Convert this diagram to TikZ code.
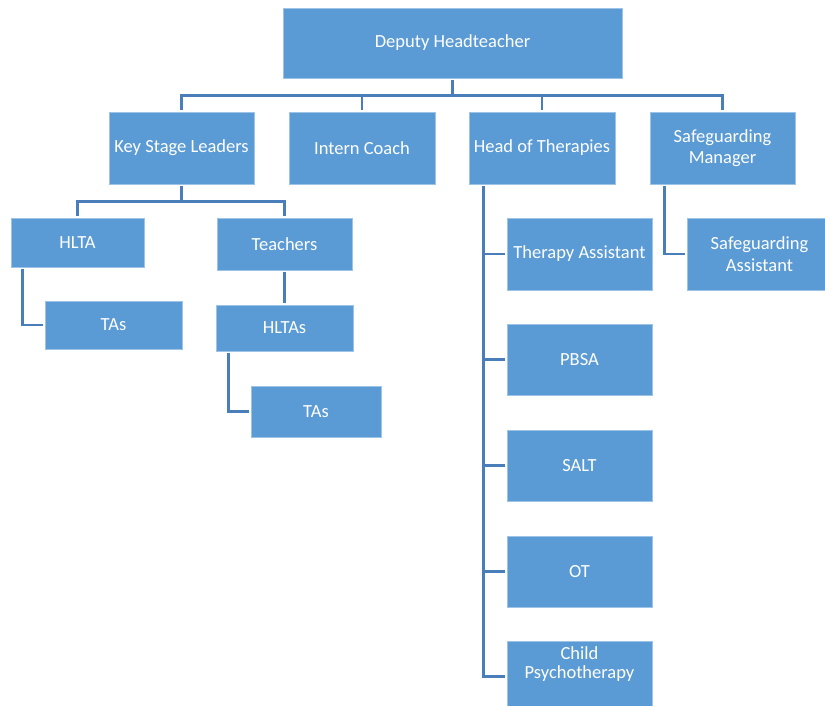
\documentclass[tikz,border=0pt]{standalone}
\usepackage{fontspec}
\setmainfont{Carlito}
\usepackage{xcolor}
\usepackage{tikz}

\definecolor{boxblue}{HTML}{5B9BD5}
\definecolor{boxedge}{HTML}{9DC3E6}
\definecolor{linkblue}{HTML}{4A7EBB}

\tikzset{
  orgbox/.style={rectangle, fill=boxblue, draw=boxedge, line width=0.8pt,
    text=white, align=center, font=\fontsize{18.5}{21.5}\selectfont, inner sep=2pt},
  link/.style={draw=linkblue, line width=2.6pt, shorten <=2pt, shorten >=2pt}
}

\begin{document}
\begin{tikzpicture}[x=1pt, y=-1pt]
            \useasboundingbox (0,0) rectangle (825,706);
            \clip (0,0) rectangle (825,706);

            % Top level
            \node[orgbox, minimum width=339pt, minimum height=70pt] (dh) at (452.5,43) {Deputy Headteacher};

            % Second row
            \node[orgbox, minimum width=145pt, minimum height=72pt] (ksl) at (181.5,148) {Key Stage Leaders};
            \node[orgbox, minimum width=146pt, minimum height=72pt] (ic) at (362,148) {Intern Coach};
            \node[orgbox, minimum width=146pt, minimum height=72pt] (hot) at (542,148) {Head of Therapies};
            \node[orgbox, minimum width=145pt, minimum height=72pt] (sm) at (722.5,148) {Safeguarding\\Manager};

            % Key stage branch
            \node[orgbox, minimum width=133pt, minimum height=49pt] (hlta) at (77.5,242.5) {HLTA};
            \node[orgbox, minimum width=135pt, minimum height=52pt] (teach) at (284.5,244) {Teachers};
            \node[orgbox, minimum width=137pt, minimum height=48pt] (tasa) at (113.5,325) {TAs};
            \node[orgbox, minimum width=137pt, minimum height=46pt] (hltas) at (284.5,328) {HLTAs};
            \node[orgbox, minimum width=130pt, minimum height=51pt] (tasb) at (316,411.5) {TAs};

            % Therapies branch
            \node[orgbox, minimum width=145pt, minimum height=72pt] (tass) at (579.5,254) {Therapy Assistant};
            \node[orgbox, minimum width=145pt, minimum height=71pt] (pbsa) at (579.5,359.5) {PBSA};
            \node[orgbox, minimum width=145pt, minimum height=71pt] (salt) at (579.5,465.5) {SALT};
            \node[orgbox, minimum width=145pt, minimum height=71pt] (ot) at (579.5,571.5) {OT};
            \node[orgbox, minimum width=145pt, minimum height=71pt] (cpt) at (579.5,676.5)
              {\raisebox{12pt}[\height][\depth]{\begin{tabular}{@{}c@{}}Child\\[-2pt]Psychotherapy\end{tabular}}};

            % Safeguarding branch
            \node[orgbox, minimum width=145pt, minimum height=72pt] (sga) at (759.5,254) {Safeguarding\\Assistant};

            % Links from the top
            \draw[link, shorten >=0pt] (dh.south) -- ++(0,17) coordinate (bus);
            \draw[link, shorten <=0pt] (bus) -| (ksl.north);
            \draw[link, shorten <=0pt] (bus) -| (ic.north);
            \draw[link, shorten <=0pt] (bus) -| (hot.north);
            \draw[link, shorten <=0pt] (bus) -| (sm.north);

            % Links under key stage leaders
            \draw[link, shorten >=0pt] (ksl.south) -- ++(0,17) coordinate (ksbus);
            \draw[link, shorten <=0pt] (ksbus) -| (hlta.north);
            \draw[link, shorten <=0pt] (ksbus) -| (teach.north);
            \draw[link] ([xshift=12pt]hlta.south west) |- (tasa.west);
            \draw[link] (teach.south) -- (hltas.north);
            \draw[link] ([xshift=13pt]hltas.south west) |- (tasb.west);

            % Links under head of therapies
            \foreach \kid in {tass,pbsa,salt,ot,cpt}
              \draw[link] ([xshift=15pt]hot.south west) |- (\kid.west);

            % Link under safeguarding manager
            \draw[link] ([xshift=15pt]sm.south west) |- (sga.west);
        \end{tikzpicture}
\end{document}
